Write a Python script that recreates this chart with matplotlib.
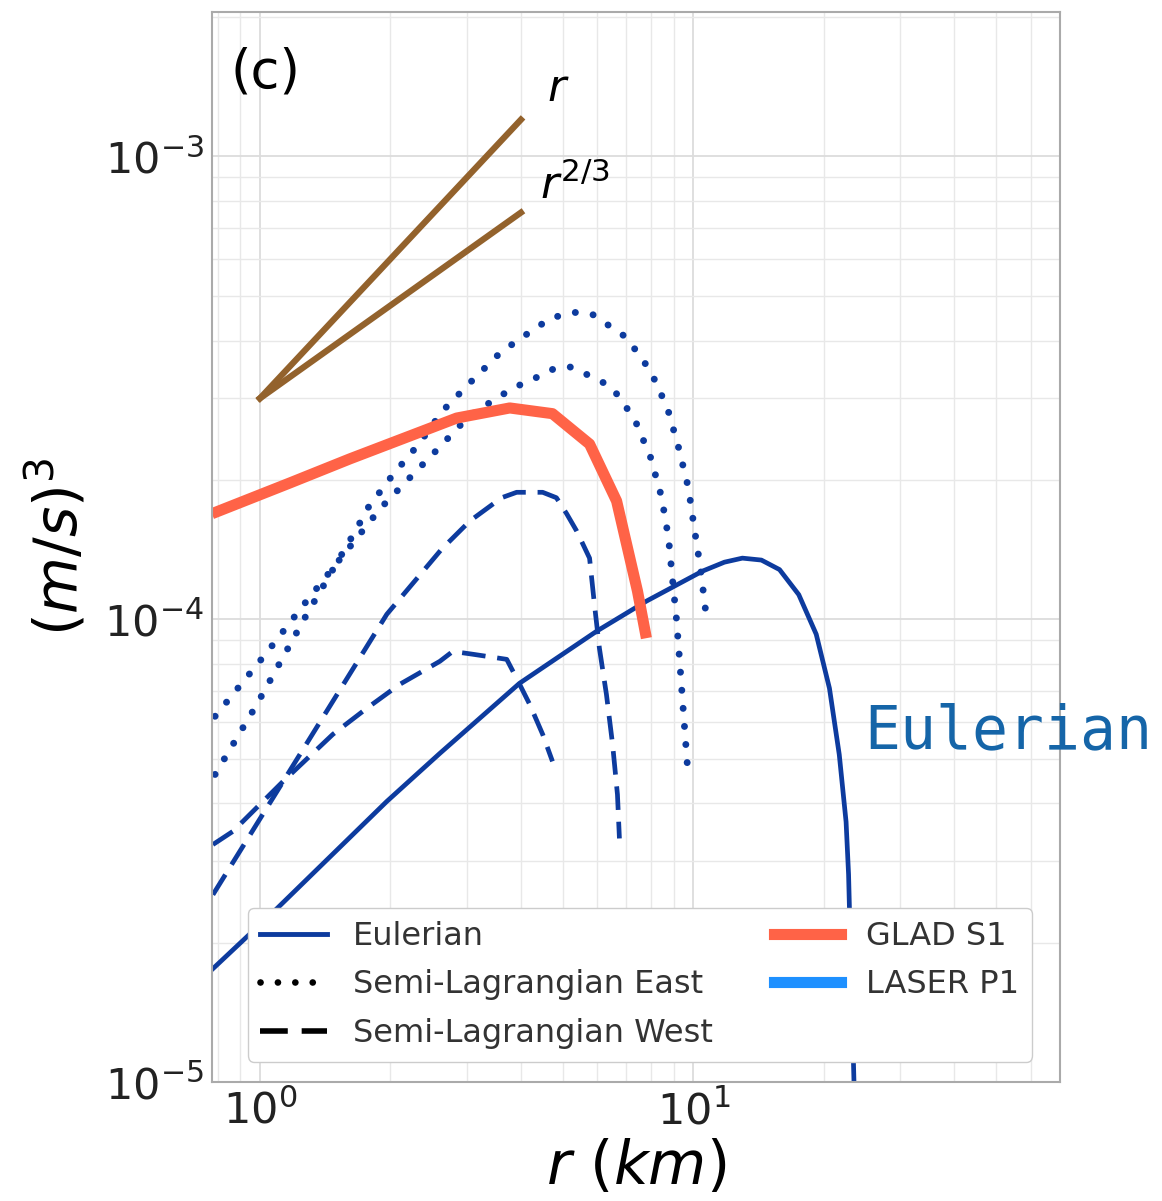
import matplotlib.pyplot as plt
import numpy as np

# Eulerian (solid)
euler_r = [0.775, 1.094, 1.962, 2.6, 3.97, 5.98, 7.79, 10.49, 11.79, 12.97,
           14.35, 15.8, 17.5, 19.2, 20.6, 21.7, 22.5, 22.8, 23.2, 23.5]
euler_s = [1.75e-5, 2.37e-5, 4.04e-5, 5.13e-5, 7.27e-5, 9.42e-5, 1.094e-4, 1.27e-4,
           1.328e-4, 1.355e-4, 1.342e-4, 1.28e-4, 1.13e-4, 9.28e-5, 7.09e-5, 5.1e-5,
           3.65e-5, 2.81e-5, 1.49e-5, 9.5e-6]

# Semi-Lagrangian East (dotted), two curves
east1_r = [0.788, 0.984, 1.283, 1.673, 1.774, 2.025, 2.325, 2.64, 3.08, 3.59, 4.3, 4.71, 5.32,
           5.82, 7.01, 7.96, 8.71, 9.24, 9.74, 10.05, 10.38, 10.66]
east1_s = [4.62e-5, 6.55e-5, 1.025e-4, 1.57e-4, 1.739e-4, 2.05e-4, 2.39e-4, 2.82e-4, 3.27e-4,
           3.77e-4, 4.24e-4, 4.48e-4, 4.6e-4, 4.57e-4, 4.06e-4, 3.44e-4, 2.86e-4, 2.35e-4,
           1.92e-4, 1.57e-4, 1.29e-4, 1.05e-4]
east2_r = [0.788, 1.038, 1.27, 1.9, 2.204, 2.57, 3.04, 3.59, 3.93, 4.32, 4.78, 5.18, 5.46, 6.47,
           7.31, 7.96, 8.44, 8.76, 8.94, 9.14, 9.29, 9.48, 9.69]
east2_s = [6.17e-5, 8.48e-5, 1.083e-4, 1.739e-4, 2.01e-4, 2.33e-4, 2.75e-4, 3.04e-4, 3.19e-4,
           3.32e-4, 3.48e-4, 3.51e-4, 3.44e-4, 3.18e-4, 2.71e-4, 2.24e-4, 1.84e-4, 1.5e-4,
           1.23e-4, 1.0e-4, 8.19e-5, 6.32e-5, 4.8e-5]

# Semi-Lagrangian West (dashed), two curves
west1_r = [0.779, 1.236, 1.962, 2.276, 2.627, 3.05, 3.61, 3.91, 4.49, 4.83, 5.1, 5.38, 5.76,
           5.91, 6.07, 6.3, 6.51, 6.68, 6.75]
west1_s = [2.54e-5, 5.1e-5, 1.025e-4, 1.209e-4, 1.418e-4, 1.63e-4, 1.83e-4, 1.88e-4, 1.88e-4,
           1.83e-4, 1.69e-4, 1.55e-4, 1.355e-4, 1.078e-4, 8.65e-5, 6.88e-5, 5.36e-5, 4.18e-5,
           3.36e-5]
west2_r = [0.779, 0.866, 1.13, 1.473, 1.764, 2.1, 2.6, 2.785, 3.1, 3.71, 3.91, 4.19, 4.49, 4.73]
west2_s = [3.26e-5, 3.48e-5, 4.46e-5, 5.64e-5, 6.42e-5, 7.23e-5, 8.11e-5, 8.52e-5, 8.4e-5,
           8.19e-5, 7.45e-5, 6.55e-5, 5.64e-5, 4.93e-5]

# GLAD S1
glad_r = [0.775, 1.173, 1.612, 2.375, 2.844, 3.77, 4.73, 5.76, 6.65, 7.43, 7.79]
glad_s = [1.69e-4, 1.97e-4, 2.22e-4, 2.55e-4, 2.72e-4, 2.86e-4, 2.78e-4, 2.39e-4, 1.8e-4,
          1.15e-4, 9.1e-5]

# reference slopes r and r^(2/3)
ref_r = np.array([1.0, 4.0])
ref_s0 = 3e-4

blue = '#0d3b9e'
brown = '#93622c'
dots = (0, (0.01, 2.6))
dashes = (0, (5, 2.5))

fig = plt.figure(figsize=(11.62, 12.01), dpi=100)
ax = fig.add_axes([0.1824, 0.099, 0.7296, 0.891])

ax.plot(ref_r, ref_s0 * ref_r, color=brown, lw=4.5)
ax.plot(ref_r, ref_s0 * ref_r ** (2 / 3), color=brown, lw=4.5)

ax.plot(euler_r, euler_s, color=blue, lw=3.4)
ax.plot(east1_r, east1_s, color=blue, lw=5, ls=dots, dash_capstyle='round')
ax.plot(east2_r, east2_s, color=blue, lw=5, ls=dots, dash_capstyle='round')
ax.plot(west1_r, west1_s, color=blue, lw=3.4, ls=dashes)
ax.plot(west2_r, west2_s, color=blue, lw=3.4, ls=dashes)
ax.plot(glad_r, glad_s, color='tomato', lw=8, solid_capstyle='butt')

ax.set_xscale('log')
ax.set_yscale('log')
ax.set_xlim(0.775, 70)
ax.set_ylim(1e-5, 2.05e-3)

ax.grid(True, which='major', color='#dcdcdc', lw=1.3)
ax.grid(True, which='minor', color='#e8e8e8', lw=1.0)
ax.tick_params(which='both', length=0, labelsize=31, colors='#222222')
ax.tick_params(axis='x', pad=6)
ax.tick_params(axis='y', pad=6)
for s in ax.spines.values():
    s.set_color('#aaaaaa')
    s.set_linewidth(1.5)

ax.set_xlabel(r'$r\ (km)$', fontsize=43, labelpad=4)
ax.set_ylabel(r'$(m/s)^3$', fontsize=42, labelpad=10)

ax.text(0.022, 0.968, '(c)', transform=ax.transAxes, fontsize=38, va='top')
ax.text(4.6, 1.32e-3, r'$r$', fontsize=32)
ax.text(4.42, 8.1e-4, r'$r^{2/3}$', fontsize=32)

fig.text(0.744, 0.377, 'Eulerian', fontsize=43, color='#1565a8',
         family='DejaVu Sans Mono', va='baseline')

# legend handles
h_e, = ax.plot([], [], color=blue, lw=3.5, label='Eulerian')
h_d, = ax.plot([], [], color='black', lw=4.8, ls=dots, dash_capstyle='round',
               label='Semi-Lagrangian East')
h_w, = ax.plot([], [], color='black', lw=4, ls=dashes, label='Semi-Lagrangian West')
h_g, = ax.plot([], [], color='tomato', lw=8, label='GLAD S1')
h_l, = ax.plot([], [], color='dodgerblue', lw=8, label='LASER P1')
leg = ax.legend(handles=[h_e, h_d, h_w, h_g, h_l], ncol=2, loc='lower left',
                bbox_to_anchor=(0.042, 0.019), borderaxespad=0, fontsize=23,
                columnspacing=1.9, handlelength=2.1, framealpha=1, edgecolor='#cccccc',
                fancybox=True, borderpad=0.4, labelspacing=0.55)
for t in leg.get_texts():
    t.set_color('#333333')

fig.savefig('out.png', dpi=100)
